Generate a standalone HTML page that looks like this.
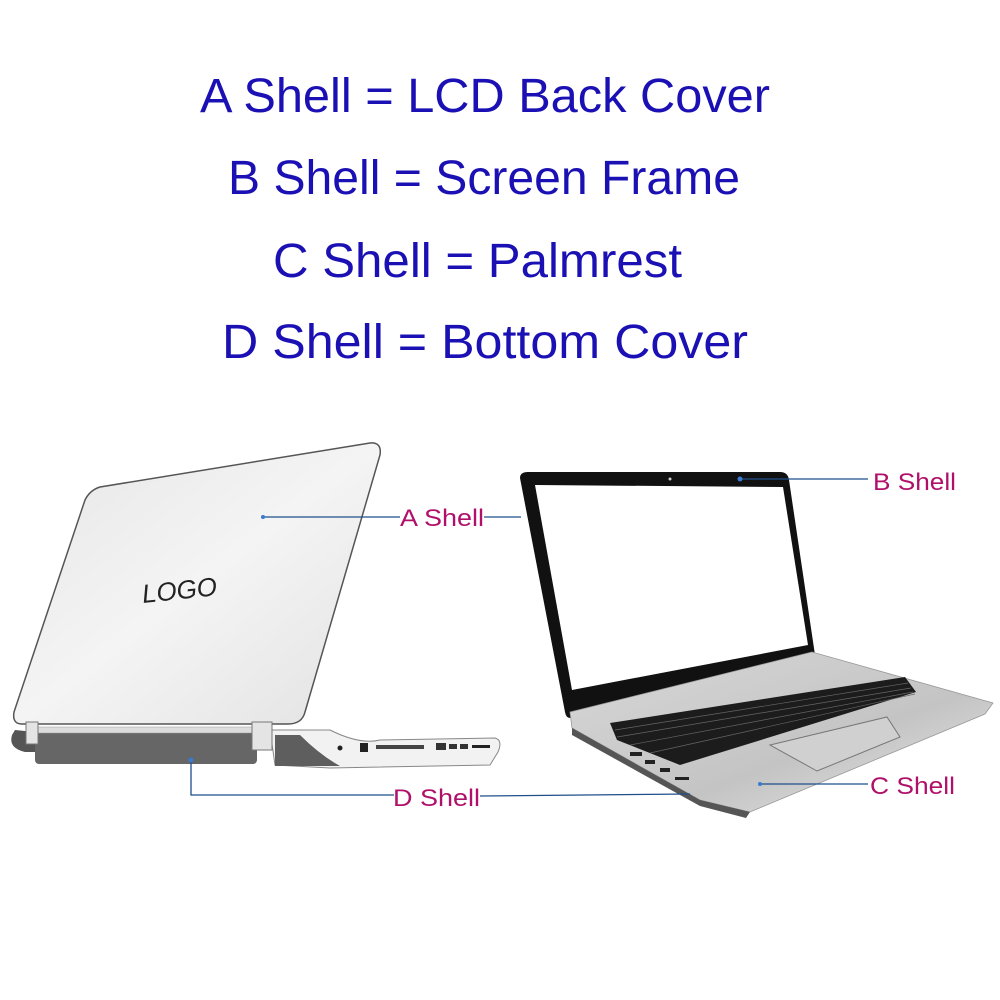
<!DOCTYPE html>
<html><head><meta charset="utf-8"><style>
html,body{margin:0;padding:0;background:#fff;}
svg{display:block;}
.t{font-family:"Liberation Sans",sans-serif;fill:#1a10b4;font-size:48px;}
.l{font-family:"Liberation Sans",sans-serif;fill:#b0106a;font-size:24px;}
</style></head><body>
<svg width="1000" height="1000" viewBox="0 0 1000 1000" xmlns="http://www.w3.org/2000/svg">
<defs>
<linearGradient id="lid" x1="0" y1="0" x2="1" y2="1">
<stop offset="0" stop-color="#e6e6e6"/><stop offset="0.5" stop-color="#f4f4f4"/><stop offset="1" stop-color="#e2e2e2"/></linearGradient>
<linearGradient id="pr" x1="0" y1="0" x2="1" y2="1">
<stop offset="0" stop-color="#d8d8d8"/><stop offset="0.6" stop-color="#c4c4c4"/><stop offset="1" stop-color="#e8e8e8"/></linearGradient>
</defs>
<text class="t" x="200" y="112" textLength="570" lengthAdjust="spacingAndGlyphs">A Shell = LCD Back Cover</text>
<text class="t" x="228" y="194" textLength="512" lengthAdjust="spacingAndGlyphs">B Shell = Screen Frame</text>
<text class="t" x="273" y="277" textLength="409" lengthAdjust="spacingAndGlyphs">C Shell = Palmrest</text>
<text class="t" x="222" y="358" textLength="526" lengthAdjust="spacingAndGlyphs">D Shell = Bottom Cover</text>

<!-- left laptop -->
<path d="M100,487 L370,443 Q382,442 380,455 L305,712 Q302,724 288,724 L22,724 Q12,724 14,712 L85,500 Q90,490 100,487 Z" fill="url(#lid)" stroke="#555" stroke-width="1.5"/>
<text x="143" y="603" font-family="Liberation Sans,sans-serif" font-style="italic" font-size="26" fill="#222" transform="rotate(-6 143 603)">LOGO</text>
<path d="M270,730 L330,730 Q360,745 380,740 L495,738 Q503,740 498,752 L490,765 L330,768 L275,765 Z" fill="#f2f2f2" stroke="#888"/>
<path d="M275,735 L300,735 Q320,755 340,766 L275,766 Z" fill="#5e5e5e"/>
<rect x="35" y="733" width="222" height="31" rx="4" fill="#666"/>
<rect x="38" y="727" width="215" height="6" fill="#ddd" stroke="#999" stroke-width="0.5"/>
<path d="M12,735 Q8,748 25,752 L35,752 L35,732 L15,730 Z" fill="#555"/>
<rect x="26" y="722" width="12" height="22" fill="#e4e4e4" stroke="#777"/>
<rect x="252" y="722" width="20" height="28" fill="#e4e4e4" stroke="#777"/>
<circle cx="340" cy="748" r="2.5" fill="#222"/>
<rect x="360" y="743" width="8" height="9" fill="#222"/>
<rect x="376" y="745" width="48" height="4" fill="#444"/>
<rect x="436" y="743" width="10" height="7" fill="#333"/>
<rect x="449" y="744" width="8" height="5" fill="#333"/>
<rect x="460" y="744" width="8" height="5" fill="#333"/>
<rect x="472" y="745" width="18" height="3" fill="#222"/>

<!-- right laptop -->
<path d="M520,478 Q520,472 528,472 L780,472 Q788,472 789,480 L815,655 L570,718 Q566,718 565,712 Z" fill="#111"/>
<path d="M535,485 L783,487 L808,645 L572,690 Z" fill="#fff"/>
<circle cx="670" cy="479" r="1.5" fill="#ccc"/>
<path d="M570,712 L812,652 L993,703 L985,714 L750,812 L700,800 L572,728 Z" fill="url(#pr)" stroke="#999" stroke-width="0.8"/>
<path d="M610,723 L905,677 L916,692 L680,765 L617,740 Z" fill="#1c1c1c"/>
<g stroke="#666" stroke-width="0.7">
<line x1="615" y1="730" x2="908" y2="683"/><line x1="617" y1="737" x2="911" y2="688"/>
<line x1="630" y1="745" x2="913" y2="692"/><line x1="650" y1="753" x2="915" y2="694"/>
</g>
<path d="M770,745 L887,717 L900,737 L817,771 Z" fill="#d0d0d0" stroke="#777"/>
<path d="M572,728 L700,800 L750,812 L746,818 L700,806 L572,735 Z" fill="#555"/>
<g fill="#222"><rect x="630" y="752" width="12" height="4"/><rect x="645" y="760" width="10" height="4"/><rect x="660" y="768" width="10" height="4"/><rect x="675" y="777" width="14" height="3"/></g>

<!-- connectors -->
<g stroke="#1f4f8a" stroke-width="1.3" fill="none">
<line x1="263" y1="517" x2="400" y2="517"/><line x1="484" y1="517" x2="521" y2="517"/>
<polyline points="191,760 191,795 394,795"/><line x1="480" y1="796" x2="690" y2="794"/>
<line x1="740" y1="479" x2="868" y2="479"/>
<line x1="760" y1="784" x2="868" y2="784"/>
</g>
<g fill="#3a7ad0"><circle cx="263" cy="517" r="2"/><circle cx="191" cy="760" r="2.5"/><circle cx="740" cy="479" r="2.5"/><circle cx="760" cy="784" r="2"/></g>
<text class="l" x="400" y="526" textLength="84" lengthAdjust="spacingAndGlyphs">A Shell</text>
<text class="l" x="393" y="806" textLength="87" lengthAdjust="spacingAndGlyphs">D Shell</text>
<text class="l" x="873" y="490" textLength="83" lengthAdjust="spacingAndGlyphs">B Shell</text>
<text class="l" x="870" y="794" textLength="85" lengthAdjust="spacingAndGlyphs">C Shell</text>
</svg>
</body></html>
